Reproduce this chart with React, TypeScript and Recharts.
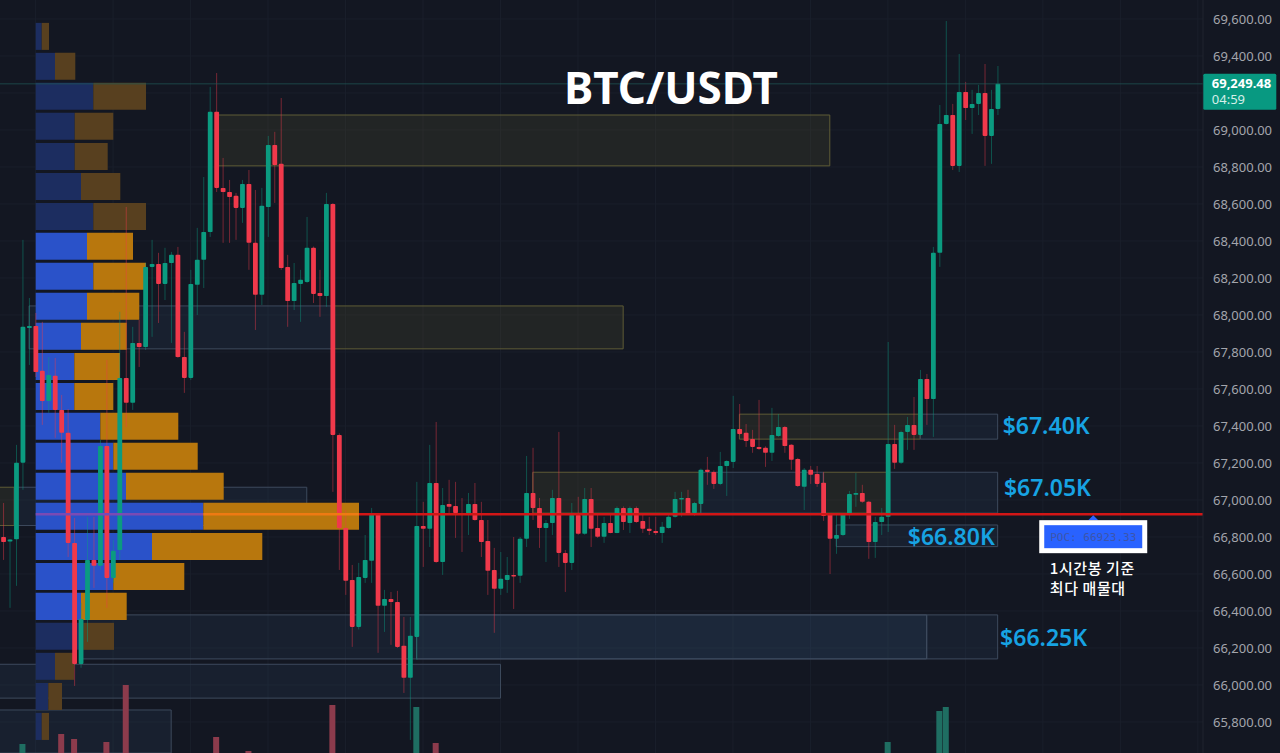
import {
  Bar,
  CartesianGrid,
  ComposedChart,
  ReferenceArea,
  ReferenceDot,
  ReferenceLine,
  XAxis,
  YAxis,
} from "recharts"

const opens = [
  66800, 66776, 66788, 67202, 67930, 67941, 67698, 67535, 67671, 67487, 67363, 66768, 66114, 66352, 66676, 66644,
  67292, 66579, 66730, 67660, 67525, 67849, 67827, 68260, 68276, 68168, 68281, 68325, 67773, 67660, 68163, 68298,
  68449, 69098, 68687, 68665, 68644, 68579, 68708, 68390, 68109, 68584, 68919, 68817, 68260, 68076, 68168, 68179,
  68363, 68119, 68103, 68600, 67352, 66849, 66568, 66314, 66579, 66671, 66925, 66428, 66465, 66449, 66212, 66039,
  66260, 66860, 66844, 67092, 66665, 66979, 66968, 66930, 66925, 66979, 66892, 66779, 66622, 66520, 66568, 66595,
  66590, 66790, 67038, 66957, 66849, 66876, 67011, 66714, 66660, 66919, 66817, 67006, 66849, 66801, 66876, 66822,
  66957, 66876, 66957, 66887, 66844, 66833, 66822, 66849, 66909, 67006, 67011, 66930, 66979, 67163, 67152, 67087,
  67184, 67206, 67384, 67363, 67330, 67287, 67282, 67255, 67346, 67395, 67298, 67222, 67071, 67163, 67141, 67093,
  66925, 66790, 66811, 66919, 67028, 67038, 66990, 66773, 66881, 66909, 67303, 67201, 67368, 67406, 67352, 67654,
  67546, 68336, 69033, 69081, 68806, 69206, 69119, 69141, 69200, 68968, 69114,
]
const highs = [
  66984, 66790, 67298, 68406, 68092, 68011, 67963, 67773, 67768, 67568, 67492, 66903, 66444, 66909, 66909, 67325,
  67757, 66784, 68017, 68584, 67936, 67973, 68281, 68406, 68336, 68363, 68341, 68368, 67909, 68244, 68471, 68746,
  69233, 69308, 68849, 68730, 68660, 68730, 68784, 68676, 68687, 68968, 68990, 69173, 68325, 68281, 68244, 68530,
  68370, 68244, 68660, 68605, 67360, 66946, 66649, 66660, 66811, 66957, 66930, 66514, 66503, 66509, 66368, 66368,
  67098, 66990, 67298, 67422, 67065, 67109, 67098, 67011, 67038, 67092, 66990, 66892, 66741, 66719, 66692, 66800,
  66800, 67238, 67282, 67011, 66892, 67055, 67368, 66730, 66984, 67017, 67065, 67065, 66919, 66909, 66919, 66965,
  66965, 66965, 66965, 66919, 66909, 66909, 66881, 66930, 67044, 67044, 67055, 66990, 67170, 67233, 67160, 67260,
  67215, 67563, 67519, 67411, 67379, 67541, 67290, 67498, 67465, 67400, 67302, 67228, 67173, 67184, 67184, 67152,
  66930, 66919, 66930, 67049, 67146, 67082, 66995, 66909, 66957, 67854, 67406, 67375, 67449, 67557, 67703, 67681,
  68368, 69135, 69589, 69141, 69411, 69260, 69217, 69244, 69357, 69217, 69346,
]
const lows = [
  66676, 66417, 66536, 67055, 67730, 67665, 67406, 67471, 67336, 67201, 66692, 65995, 66093, 66233, 66525, 66622,
  66417, 66552, 66676, 67395, 67487, 67719, 67811, 67882, 67957, 68081, 67849, 67768, 67579, 67649, 68000, 68146,
  68422, 68665, 68390, 68390, 68406, 68498, 68244, 67919, 68054, 68422, 68606, 68244, 67936, 68027, 67963, 68173,
  68065, 67990, 68044, 67044, 66622, 66487, 66206, 66300, 66552, 66552, 66174, 66287, 66217, 66200, 65957, 65703,
  66136, 66638, 66746, 66660, 66595, 66919, 66795, 66719, 66811, 66888, 66692, 66487, 66282, 66487, 66498, 66411,
  66552, 66746, 66892, 66741, 66665, 66811, 66638, 66503, 66622, 66812, 66812, 66746, 66795, 66768, 66820, 66820,
  66838, 66822, 66876, 66822, 66811, 66811, 66768, 66845, 66905, 66909, 66919, 66914, 66919, 67082, 67060, 67080,
  67022, 67173, 67350, 67287, 67255, 67270, 67179, 67211, 67341, 67255, 67163, 67070, 66946, 67087, 67071, 66887,
  66600, 66709, 66805, 66898, 66963, 66985, 66682, 66687, 66811, 66827, 67168, 67195, 67271, 67271, 67348, 67406,
  67341, 68260, 69030, 68784, 68773, 69054, 68979, 69081, 68806, 68817, 69081,
]
const closes = [
  66773, 66787, 67202, 67936, 67941, 67692, 67535, 67676, 67487, 67363, 66768, 66114, 66357, 66676, 66644, 67292,
  66579, 66725, 67660, 67525, 67849, 67827, 68260, 68276, 68168, 68281, 68325, 67773, 67660, 68168, 68298, 68449,
  69098, 68687, 68665, 68638, 68579, 68708, 68390, 68109, 68590, 68919, 68811, 68254, 68076, 68173, 68190, 68363,
  68114, 68103, 68600, 67352, 66849, 66563, 66314, 66584, 66676, 66925, 66428, 66465, 66449, 66206, 66039, 66266,
  66860, 66844, 67092, 66665, 66973, 66963, 66930, 66919, 66979, 66892, 66773, 66617, 66520, 66574, 66595, 66590,
  66790, 67038, 66957, 66849, 66876, 67011, 66714, 66660, 66919, 66817, 67006, 66844, 66801, 66876, 66822, 66957,
  66881, 66957, 66881, 66844, 66833, 66822, 66855, 66909, 67006, 67011, 66925, 66984, 67163, 67152, 67087, 67184,
  67211, 67384, 67357, 67319, 67287, 67276, 67255, 67352, 67395, 67292, 67217, 67076, 67163, 67136, 67087, 66914,
  66790, 66811, 66925, 67033, 67038, 66990, 66773, 66881, 66909, 67303, 67201, 67368, 67406, 67352, 67654, 67546,
  68336, 69033, 69081, 68806, 69206, 69119, 69141, 69200, 68968, 69114, 69249.48,
]

// only a few volume bars stick up into the frame
const volumeCandles = [3, 9, 11, 16, 19, 33, 38, 51, 64, 67, 137, 145, 146]
const volumeValues = [9, 19, 14, 11, 68, 16, 2, 48, 46, 10, 11, 42, 46]

// volume profile, one row per price bucket
const vpRowTops = [
  69579, 69417, 69255, 69093, 68930, 68768, 68606, 68444, 68282, 68120, 67958, 67795, 67633, 67471, 67309, 67147,
  66985, 66822, 66660, 66498, 66336, 66174, 66011, 65849,
]
const vpUp = [
  6, 19.3, 57.6, 39, 39, 45.3, 57.6, 51.3, 57.6, 51.3, 45.3, 38.6, 38.6, 64.6, 77.6, 90.3, 167.6, 116.3, 77.6, 45.3,
  47.6, 19.3, 12.6, 6,
]
const vpDown = [
  7.3, 20.3, 52.7, 38.6, 33, 39.3, 52.7, 46, 52.7, 52.3, 45.7, 45.7, 39, 78, 84.4, 97.7, 155.7, 110.3, 71, 45.7, 30.7,
  19, 13.7, 7.3,
]
const vpValueAreaFirst = 7
const vpValueAreaLast = 19
const vpRowHeight = 146

// [from candle, to candle, top price, bottom price]
const yellowZones = [
  [33, 128, 69081, 68806],
  [51, 96, 68049, 67817],
  [114, 142, 67464, 67329],
  [82, 108, 67150, 66929],
  [127, 137, 67150, 66929],
  [-1, 1.7, 67069, 66862],
]
const blueZones = [
  [4, 51, 68049, 67817],
  [142, 154, 67464, 67329],
  [108, 127, 67150, 66929],
  [137, 154, 67150, 66929],
  [129, 154, 66865, 66748],
  [12, 143, 66379, 66141],
  [64, 143, 66379, 66141],
  [143, 154, 66379, 66141],
  [-1, 77, 66112, 65929],
  [-1, 26, 65865, 65632],
  [1.7, 47, 67069, 66862],
]

const priceTicks = [
  65800, 66000, 66200, 66400, 66600, 66800, 67000, 67200, 67400, 67600, 67800, 68000, 68200, 68400, 68600, 68800,
  69000, 69200, 69400, 69600,
]
const gridCandles = [5, 17, 29, 41, 53, 65, 77, 89, 101, 113, 125, 137, 149, 161, 173, 185]

const lastPrice = 69249.48
const pocPrice = 66923.33
// the POC line changes tint where it crosses the profile row
const pocBreaks = [0, 167.6, 323.3, 1167.3]
const pocColors = ["#7a4ab4", "#ee7a12", "#d21616"]

const levelLabels = ["$67.40K", "$67.05K", "$66.80K", "$66.25K"]
const levelPrices = [67400, 67065, 66800, 66255]
const levelCandles = [154, 154.2, 139.3, 153.6]

const UP = "#0b9b80"
const DOWN = "#f0394b"
const FONT = "'Noto Sans', sans-serif"

const rows = opens.map((open, i) => {
  const v = volumeCandles.indexOf(i)
  return {
    i,
    open,
    high: highs[i],
    low: lows[i],
    close: closes[i],
    range: [lows[i], highs[i]],
    volume: v >= 0 ? volumeValues[v] : undefined,
  }
})

const Candle = (props: any) => {
  const { x, y, width, height, payload } = props
  const { open, high, low, close } = payload
  const perUnit = height / (high - low)
  const toY = (p: number) => y + (high - p) * perUnit
  const color = close >= open ? UP : DOWN
  const mid = x + width / 2
  const top = toY(Math.max(open, close))
  const bodyH = Math.max(toY(Math.min(open, close)) - top, 1.5)
  return (
    <g>
      <line x1={mid} x2={mid} y1={y} y2={y + height} stroke={color} strokeOpacity={0.45} />
      <rect x={mid - 2.4} y={top} width={4.8} height={bodyH} fill={color} rx={0.8} />
    </g>
  )
}

const VolumeBar = (props: any) => {
  const { x, y, width, height, payload } = props
  if (!height) return null
  const color = payload.close >= payload.open ? "#1f6e62" : "#8c3b4c"
  return <rect x={x + width / 2 - 3} y={y} width={6} height={height} fill={color} />
}

const PocMarker = ({ cx, cy }: any) => (
  <g>
    <path d={`M${cx - 5} ${cy + 6}L${cx} ${cy + 1}L${cx + 5} ${cy + 6}Z`} fill="#2962ff" />
    <rect x={cx - 51.5} y={cy + 8.5} width={103} height={28} fill="#2962ff" stroke="#ffffff" strokeWidth={5} />
    <text
      x={cx}
      y={cy + 27}
      textAnchor="middle"
      fontSize={11}
      fontFamily="'DejaVu Sans Mono', monospace"
      fill="#3c55ab"
    >
      POC: 66923.33
    </text>
  </g>
)

const PriceTag = ({ cx, cy }: any) => (
  <g fontFamily={FONT}>
    <rect x={cx - 36.5} y={cy - 10} width={73} height={36} rx={1.5} fill="#089981" />
    <text x={cx - 28} y={cy + 4.5} fontSize={13} fontWeight={700} fill="#ffffff">
      69,249.48
    </text>
    <text x={cx - 28} y={cy + 20} fontSize={13} fill="#d5efe9">
      04:59
    </text>
  </g>
)

const formatPrice = (v: number) =>
  v.toLocaleString("en-US", { minimumFractionDigits: 2, maximumFractionDigits: 2 })

export default function App() {
  return (
    <div style={{ position: "fixed", left: 0, top: 0, width: 1280, height: 753, background: "#131722", overflow: "hidden" }}>
      <ComposedChart width={1280} height={753} data={rows} margin={{ top: 0, right: 0, bottom: 0, left: 0 }}>
        <XAxis xAxisId="idx" type="number" dataKey="i" domain={[-0.511, 185.8]} allowDataOverflow hide />
        <XAxis xAxisId="vol" type="number" dataKey="i" domain={[-0.511, 185.8]} allowDataOverflow hide />
        <XAxis xAxisId="vp" type="number" dataKey="i" domain={[-35.7, 1167.3]} allowDataOverflow hide />
        <YAxis
          yAxisId="price"
          orientation="right"
          width={77}
          type="number"
          domain={[65632.4, 69702.7]}
          allowDataOverflow
          ticks={priceTicks.filter((t) => t !== 69200)}
          interval={0}
          tickFormatter={formatPrice}
          tickLine={false}
          tickSize={0}
          tickMargin={10}
          axisLine={{ stroke: "#20242f" }}
          tick={{ fill: "#a3a5ac", fontSize: 13, fontFamily: FONT, textAnchor: "start" }}
        />
        <YAxis yAxisId="volume" type="number" domain={[0, 753]} allowDataOverflow hide />
        <CartesianGrid
          xAxisId="idx"
          yAxisId="price"
          stroke="#1a1f2b"
          verticalValues={gridCandles}
          horizontalValues={priceTicks}
        />

        {yellowZones.map(([from, to, top, bottom], k) => (
          <ReferenceArea
            key={`y${k}`}
            xAxisId="idx"
            yAxisId="price"
            x1={from}
            x2={to}
            y1={top}
            y2={bottom}
            ifOverflow="hidden"
            fill="#6f6a35"
            fillOpacity={0.17}
            stroke="#5f5c36"
            strokeWidth={1}
          />
        ))}
        {blueZones.map(([from, to, top, bottom], k) => (
          <ReferenceArea
            key={`b${k}`}
            xAxisId="idx"
            yAxisId="price"
            x1={from}
            x2={to}
            y1={top}
            y2={bottom}
            ifOverflow="hidden"
            fill="#3c5a80"
            fillOpacity={0.14}
            stroke="#3d4a5d"
            strokeWidth={1}
          />
        ))}

        {vpRowTops.map((top, k) => {
          const bright = k >= vpValueAreaFirst && k <= vpValueAreaLast
          return [
            <ReferenceArea
              key={`u${k}`}
              xAxisId="vp"
              yAxisId="price"
              x1={0}
              x2={vpUp[k]}
              y1={top}
              y2={top - vpRowHeight}
              ifOverflow="hidden"
              fill={bright ? "#2a52c9" : "#1c2d60"}
              fillOpacity={1}
            />,
            <ReferenceArea
              key={`d${k}`}
              xAxisId="vp"
              yAxisId="price"
              x1={vpUp[k]}
              x2={vpUp[k] + vpDown[k]}
              y1={top}
              y2={top - vpRowHeight}
              ifOverflow="hidden"
              fill={bright ? "#b8770d" : "#58401f"}
              fillOpacity={1}
            />,
          ]
        })}

        <ReferenceLine xAxisId="idx" yAxisId="price" y={lastPrice} stroke="#1f5a58" strokeOpacity={0.7} />

        <Bar
          xAxisId="vol"
          yAxisId="volume"
          dataKey="volume"
          barSize={6}
          shape={VolumeBar}
          isAnimationActive={false}
        />
        <Bar
          xAxisId="idx"
          yAxisId="price"
          dataKey="range"
          barSize={5}
          shape={Candle}
          isAnimationActive={false}
        />

        {pocColors.map((color, k) => (
          <ReferenceLine
            key={color}
            xAxisId="vp"
            yAxisId="price"
            stroke={color}
            strokeWidth={2.4}
            segment={[
              { x: pocBreaks[k], y: pocPrice },
              { x: pocBreaks[k + 1], y: pocPrice },
            ]}
          />
        ))}

        {levelLabels.map((label, k) => (
          <ReferenceDot
            key={label}
            xAxisId="idx"
            yAxisId="price"
            x={levelCandles[k]}
            y={levelPrices[k]}
            r={0}
            label={{
              value: label,
              position: "right",
              fill: "#17a3e3",
              fontSize: 23,
              fontWeight: 600,
              fontFamily: FONT,
            }}
          />
        ))}
        <ReferenceDot
          xAxisId="idx"
          yAxisId="price"
          x={103.4}
          y={69227}
          r={0}
          label={{
            value: "BTC/USDT",
            position: "center",
            fill: "#ffffff",
            fontSize: 44,
            fontWeight: 700,
            fontFamily: FONT,
          }}
        />
        <ReferenceDot
          xAxisId="idx"
          yAxisId="price"
          x={161.3}
          y={66627}
          r={0}
          label={{
            value: "1시간봉 기준",
            position: "right",
            fill: "#ffffff",
            fontSize: 15,
            fontWeight: 500,
            letterSpacing: 0.6,
            fontFamily: "'Noto Sans CJK KR', sans-serif",
          }}
        />
        <ReferenceDot
          xAxisId="idx"
          yAxisId="price"
          x={161.3}
          y={66520}
          r={0}
          label={{
            value: "최다 매물대",
            position: "right",
            fill: "#ffffff",
            fontSize: 15,
            fontWeight: 500,
            letterSpacing: 0.6,
            fontFamily: "'Noto Sans CJK KR', sans-serif",
          }}
        />
        <ReferenceDot xAxisId="idx" yAxisId="price" x={168.8} y={pocPrice} shape={PocMarker} />
        <ReferenceDot
          xAxisId="idx"
          yAxisId="price"
          x={191.5}
          y={lastPrice}
          ifOverflow="visible"
          shape={PriceTag}
        />
      </ComposedChart>
    </div>
  )
}
